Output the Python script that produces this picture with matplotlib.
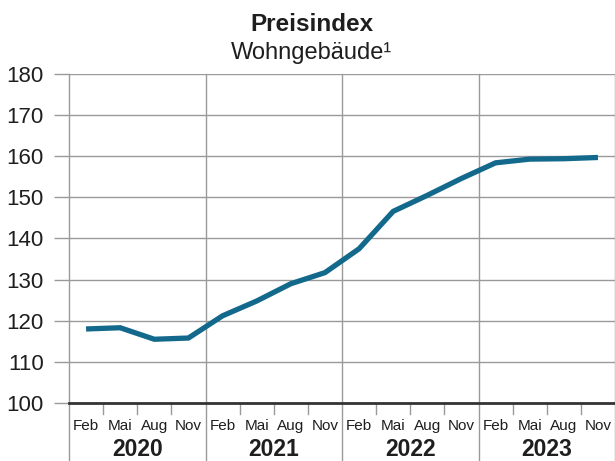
import matplotlib
matplotlib.use("Agg")
import matplotlib.pyplot as plt
from matplotlib.transforms import blended_transform_factory

years = ["2020", "2021", "2022", "2023"]
months = ["Feb", "Mai", "Aug", "Nov"]
values = [118.0, 118.3, 115.5, 115.8,
          121.2, 124.8, 129.0, 131.7,
          137.5, 146.6, 150.5, 154.6,
          158.4, 159.3, 159.4, 159.7]
yticks = [100, 110, 120, 130, 140, 150, 160, 170, 180]

plt.rcParams['font.family'] = ['Liberation Sans', 'DejaVu Sans']

fig = plt.figure(figsize=(6.15, 4.61), dpi=100)
ax = fig.add_axes([69/615, 58/461, 1 - 69/615, (403-74)/461])

n = len(values)
xs = [i + 0.5 for i in range(n)]
ax.set_xlim(0, n)
ax.set_ylim(100, 180)

grid_c = "#9a9a9a"
txt_c = "#1e1e1e"
for y in yticks[1:]:
    ax.axhline(y, color=grid_c, lw=1.0, zorder=1)
for s in ax.spines.values():
    s.set_visible(False)

ax.set_yticks(yticks)
ax.set_yticklabels([str(v) for v in yticks], fontsize=16, color=txt_c)
ax.tick_params(axis='y', length=11, width=1.0, color=grid_c, pad=7)
ax.set_xticks([])

trans = blended_transform_factory(ax.transData, ax.transAxes)
# year separators (extend below axis)
for k in range(len(years) + 1):
    ax.plot([k * 4, k * 4], [1.0, -0.18], transform=trans, color=grid_c,
            lw=1.0, clip_on=False, zorder=1)
# quarter ticks
for q in range(n):
    if q % 4 != 0:
        ax.plot([q, q], [0, -0.032], transform=trans, color=grid_c,
                lw=1.0, clip_on=False, zorder=1)
# base line
ax.axhline(100, color="#333333", lw=2.0, zorder=3, clip_on=False)

ax.plot(xs, values, color="#13698c", lw=3.8, solid_capstyle='butt',
        solid_joinstyle='miter', zorder=4)

for i in range(n):
    ax.text(xs[i], -0.07, months[i % 4], transform=trans, ha='center',
            va='center', fontsize=11, color=txt_c)
for k, yr in enumerate(years):
    ax.text(k * 4 + 2, -0.14, yr, transform=trans, ha='center', va='center',
            fontsize=16.5, fontweight='bold', color=txt_c)

fig.text(0.507, 1 - 31/461, "Preisindex", ha='center', va='baseline',
         fontsize=17.5, fontweight='bold', color=txt_c)
fig.text(0.507, 1 - 59/461, "Wohngebäude¹", ha='center', va='baseline',
         fontsize=17, color=txt_c)

fig.savefig("out.png", dpi=100)
